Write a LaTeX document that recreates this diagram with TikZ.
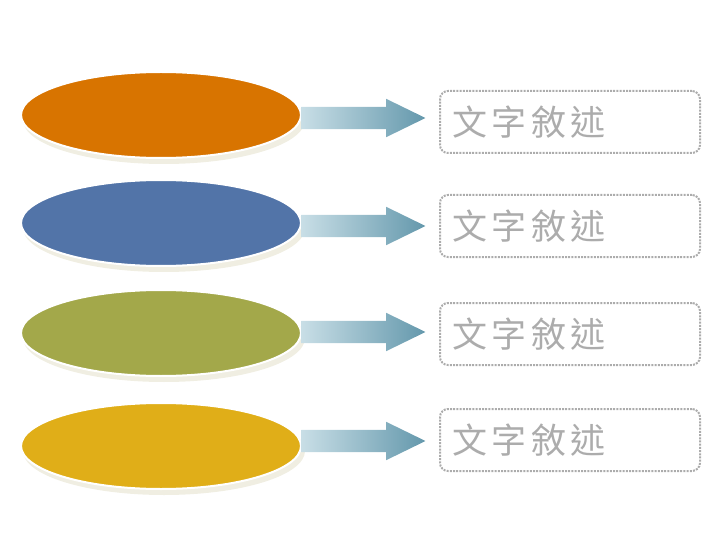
\documentclass[tikz,border=0pt]{standalone}
\usepackage{fontspec}
\usepackage{tikz}
\usetikzlibrary{shapes.geometric,shapes.arrows}
\newfontfamily\cjk[LetterSpace=13]{Noto Sans CJK TC}
\definecolor{ocol}{RGB}{216,116,0}
\definecolor{bcol}{RGB}{82,116,168}
\definecolor{gcol}{RGB}{163,168,74}
\definecolor{ycol}{RGB}{224,174,24}
\definecolor{alcol}{RGB}{200,222,230}
\definecolor{arcol}{RGB}{100,152,172}
\definecolor{shcol}{RGB}{240,238,226}
\definecolor{txcol}{RGB}{172,172,172}
\tikzset{every picture/.style={x=1pt,y=-1pt}}
\tikzset{disc/.style={ellipse,draw=white,line width=2pt,minimum width=280,minimum height=86,inner sep=0pt}}
\tikzset{discshadow/.style={ellipse,fill=shcol,minimum width=282,minimum height=88,inner sep=0pt}}
\tikzset{pointer/.style={single arrow,inner xsep=0pt,inner ysep=11pt,minimum height=124,single arrow head extend=8,single arrow tip angle=52,shading=axis,left color=alcol,right color=arcol,shading angle=90}}
\tikzset{textbox/.style={draw=txcol,dash pattern=on 2pt off 1.2pt,line width=2pt,rounded corners=8,minimum width=260,minimum height=62,text width=236,align=left,text=txcol,font=\cjk\fontsize{35}{35}\selectfont}}

\begin{document}
\begin{tikzpicture}
\useasboundingbox (0,0) rectangle (720,540);

\node [discshadow] (s1) at (164,120) {};
\node [discshadow] (s2) at (164,228) {};
\node [discshadow] (s3) at (164,338) {};
\node [discshadow] (s4) at (164,451) {};

\node [disc,fill=ocol] (e1) at (161,115) {};
\node [disc,fill=bcol] (e2) at (161,223) {};
\node [disc,fill=gcol] (e3) at (161,333) {};
\node [disc,fill=ycol] (e4) at (161,446) {};

\node [pointer] (a1) at (352,118) {};
\node [pointer] (a2) at (352,226) {};
\node [pointer] (a3) at (352,332) {};
\node [pointer] (a4) at (352,441) {};

\node [textbox] (b1) at (570,122) {文字敘述};
\node [textbox] (b2) at (570,226) {文字敘述};
\node [textbox] (b3) at (570,334) {文字敘述};
\node [textbox] (b4) at (570,440) {文字敘述};
\end{tikzpicture}
\end{document}
